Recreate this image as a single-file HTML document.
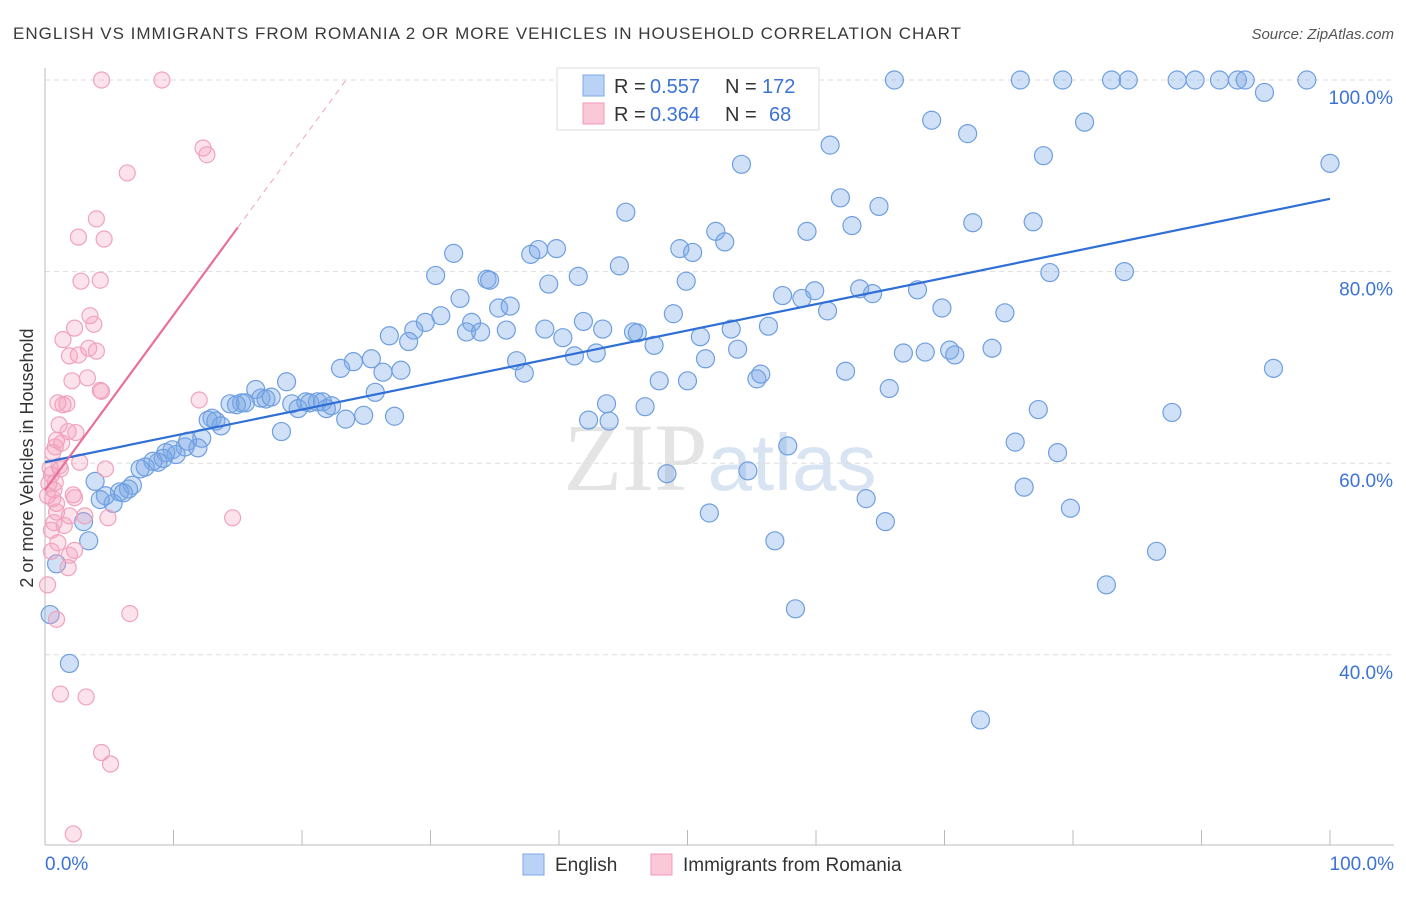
<!DOCTYPE html>
<html><head><meta charset="utf-8"><style>
body{margin:0;background:#fff;width:1406px;height:892px;overflow:hidden;font-family:"Liberation Sans",sans-serif}
svg text{font-family:"Liberation Sans",sans-serif}
</style></head><body>
<svg id="chart" width="1406" height="892" xmlns="http://www.w3.org/2000/svg">
<text x="13" y="39" font-size="17" fill="#3a3a3a" textLength="948">ENGLISH VS IMMIGRANTS FROM ROMANIA 2 OR MORE VEHICLES IN HOUSEHOLD CORRELATION CHART</text>
<text x="1394" y="39" font-size="15" fill="#555" font-style="italic" text-anchor="end">Source: ZipAtlas.com</text>
<text x="720" y="490" font-size="96" text-anchor="middle" fill="#e4e4e4"><tspan font-family="Liberation Serif">ZIP</tspan><tspan fill="#d8e4f2" font-size="80">atlas</tspan></text>
<text transform="translate(33,458) rotate(-90)" font-size="18" fill="#333" text-anchor="middle">2 or more Vehicles in Household</text>
<g id="grid"></g><g id="axes"></g><g id="pts"></g><g id="lines"></g>
<g>
<rect x="557" y="68" width="262" height="62" fill="#fff" stroke="#ddd"/>
<rect x="583" y="75" width="21" height="21" fill="#b9d2f5" stroke="#7fa9e6"/>
<rect x="583" y="103" width="21" height="21" fill="#fbc8d7" stroke="#f09ab5"/>
<text x="614" y="93" font-size="20" fill="#333">R =</text>
<text x="650" y="93" font-size="20" fill="#3b73d6">0.557</text>
<text x="725" y="93" font-size="20" fill="#333">N =</text>
<text x="762" y="93" font-size="20" fill="#3b73d6">172</text>
<text x="614" y="121" font-size="20" fill="#333">R =</text>
<text x="650" y="121" font-size="20" fill="#3b73d6">0.364</text>
<text x="725" y="121" font-size="20" fill="#333">N =</text>
<text x="769" y="121" font-size="20" fill="#3b73d6">68</text>
</g>
<g>
<rect x="523" y="854" width="21" height="21" fill="#b9d2f5" stroke="#7fa9e6"/>
<text x="555" y="871" font-size="19" fill="#333">English</text>
<rect x="651" y="854" width="21" height="21" fill="#fbc8d7" stroke="#f09ab5"/>
<text x="683" y="871" font-size="19" fill="#333">Immigrants from Romania</text>
</g>
</svg>
<script>
const blueX=[66.1,75.9,79.2,83.0,84.3,88.1,89.5,91.4,92.8,93.4,98.2,94.9,100,69.0,71.8,80.9,61.1,77.7,54.2,45.2,61.9,64.9,62.8,72.2,76.9,59.3,52.2,52.9,49.4,50.4,37.8,38.4,39.8,31.8,30.4,44.7,41.5,39.2,34.4,34.6,49.9,78.2,84.0,57.4,58.9,59.9,63.4,64.4,67.9,35.3,36.2,32.3,69.8,74.7,60.9,48.9,41.9,30.8,33.2,29.6,28.7,26.8,28.3,32.8,33.9,35.9,38.9,43.4,45.8,46.1,40.3,51.0,53.4,56.3,47.4,53.9,73.7,25.4,24.0,23.0,26.3,27.7,36.7,37.3,41.2,42.9,51.4,66.8,68.5,70.4,70.8,62.3,55.4,55.7,47.8,65.7,95.6,18.8,16.4,25.7,15.3,14.4,14.9,15.6,16.8,17.2,17.6,19.2,19.7,20.3,20.6,21.2,21.6,21.9,22.3,23.4,24.8,27.2,18.4,13.0,12.7,13.3,13.7,12.2,11.1,10.9,11.9,9.9,10.2,9.4,9.2,8.8,8.4,7.8,7.4,6.8,6.5,5.8,5.3,4.7,3.9,3.0,3.4,0.9,0.4,1.9,43.7,43.9,42.3,46.7,50.0,87.7,77.3,75.5,78.8,57.8,54.7,48.4,63.9,76.2,79.8,51.7,65.4,56.8,86.5,82.6,58.4,72.8,6.1,4.3];
const blueY=[100,100,100,100,100,100,100,100,100,100,100,98.7,91.3,95.8,94.4,95.6,93.2,92.1,91.2,86.2,87.7,86.8,84.8,85.1,85.2,84.2,84.2,83.1,82.4,82.0,81.8,82.3,82.4,81.9,79.6,80.6,79.5,78.7,79.2,79.1,79.0,79.9,80.0,77.5,77.2,78.0,78.2,77.7,78.1,76.2,76.4,77.2,76.2,75.7,75.9,75.6,74.8,75.4,74.7,74.7,73.9,73.3,72.7,73.7,73.7,73.9,74.0,74.0,73.7,73.6,73.1,73.2,74.0,74.3,72.3,71.9,72.0,70.9,70.6,69.9,69.5,69.7,70.7,69.4,71.2,71.5,70.9,71.5,71.6,71.8,71.3,69.6,68.8,69.3,68.6,67.8,69.9,68.5,67.7,67.4,66.3,66.2,66.1,66.3,66.8,66.7,66.9,66.2,65.7,66.4,66.3,66.4,66.4,65.7,66.0,64.6,65.0,64.9,63.3,64.7,64.5,64.4,63.9,62.6,62.3,61.7,61.6,61.4,60.9,61.1,60.5,60.1,60.2,59.6,59.4,57.7,57.3,57.0,55.8,56.6,58.1,53.9,51.9,49.5,44.2,39.1,66.2,64.4,64.5,65.9,68.6,65.3,65.6,62.2,61.1,61.8,59.2,58.9,56.3,57.5,55.3,54.8,53.9,51.9,50.8,47.3,44.8,33.2,56.9,56.2];
const pinkX=[4.4,9.1,12.3,12.6,6.4,4.0,4.6,2.6,4.3,2.8,3.5,3.8,2.3,1.4,3.4,4.0,2.6,1.9,2.1,3.3,4.3,4.4,12.0,1.4,1.7,1.0,1.1,2.4,0.9,1.3,0.8,0.6,1.2,0.4,1.1,2.7,4.7,0.5,0.8,0.3,0.7,0.2,0.6,0.9,2.2,2.3,0.9,1.9,3.1,4.9,0.7,1.5,0.5,1.0,2.3,1.9,1.8,0.2,14.6,6.6,0.9,1.2,3.2,4.4,5.1,2.2,1.8,0.5];
const pinkY=[100,100,92.9,92.2,90.3,85.5,83.4,83.6,79.1,79.0,75.4,74.5,74.1,72.9,72.0,71.7,71.3,71.2,68.6,68.9,67.6,67.5,66.6,66.1,66.2,66.3,64.0,63.2,62.4,62.1,61.7,61.1,59.4,59.5,59.7,60.1,59.4,58.8,58.0,57.9,57.2,56.6,56.3,55.8,56.7,56.4,54.9,54.5,54.5,54.3,53.8,53.5,53.0,51.7,50.9,50.4,49.1,47.3,54.3,44.3,43.7,35.9,35.6,29.8,28.6,21.3,63.3,50.8];
const xTicks=[0,10,20,30,40,50,60,70,80,90,100];
const yGrid=[100,80,60,40];
const yTickLabels=["100.0%","80.0%","60.0%","40.0%"];
const blueTrend=[60.1,87.6];
const pinkTrend=[57.2,84.6];
const NS="http://www.w3.org/2000/svg";
const sx=v=>45+v*12.85, sy=v=>80+(100-v)*9.58;
function mk(tag,attrs,parent){const e=document.createElementNS(NS,tag);for(const k in attrs)e.setAttribute(k,attrs[k]);document.getElementById(parent).appendChild(e);return e;}
yGrid.forEach((v,i)=>{
 const g=mk('line',{x1:45,x2:1394,y1:sy(v),y2:sy(v),stroke:'#ddd','stroke-dasharray':'5,4'},'grid');
 
 
 const t=mk('text',{x:1393,y:sy(v)+24,'font-size':19,fill:'#3b73d6','text-anchor':'end'},'grid');t.textContent=yTickLabels[i];
 
 
});
const ax=mk('line',{x1:45,x2:1394,y1:845,y2:845,stroke:'#bbb'},'axes');


const ay=mk('line',{x1:45,x2:45,y1:68,y2:845,stroke:'#bbb'},'axes');


xTicks.forEach(v=>{const t=mk('line',{x1:sx(v),x2:sx(v),y1:830,y2:845,stroke:'#bbb'},'axes');
 
 });
[[0,"0.0%",'start',45],[100,"100.0%",'end',1394]].forEach(a=>{const t=mk('text',{x:a[3],y:870,'font-size':19,fill:'#3b73d6','text-anchor':a[2]},'axes');t.textContent=a[1];
 
 });
blueX.forEach((x,i)=>{const c=mk('circle',{cx:sx(x),cy:sy(blueY[i]),r:9,fill:'rgba(120,165,230,0.35)',stroke:'#6f9fe0','stroke-width':1.2},'pts');
 
 });
pinkX.forEach((x,i)=>{const c=mk('circle',{cx:sx(x),cy:sy(pinkY[i]),r:8,fill:'rgba(245,160,190,0.3)',stroke:'#f0a3bd','stroke-width':1.2},'pts');
 
 });
const bl=mk('line',{x1:sx(0),y1:sy(blueTrend[0]),x2:sx(100),y2:sy(blueTrend[1]),stroke:'#2f6fd6','stroke-width':2.2},'lines');


const slope=(pinkTrend[1]-pinkTrend[0])/15;
const pl=mk('line',{x1:sx(0),y1:sy(pinkTrend[0]),x2:sx(15),y2:sy(pinkTrend[1]),stroke:'#e8709a','stroke-width':2.2},'lines');


const xe=(100-pinkTrend[0])/slope;
const pd=mk('line',{x1:sx(15),y1:sy(pinkTrend[1]),x2:sx(xe),y2:sy(100),stroke:'#f0a3bd','stroke-width':1,'stroke-dasharray':'6,5'},'lines');


</script>
</body></html>
